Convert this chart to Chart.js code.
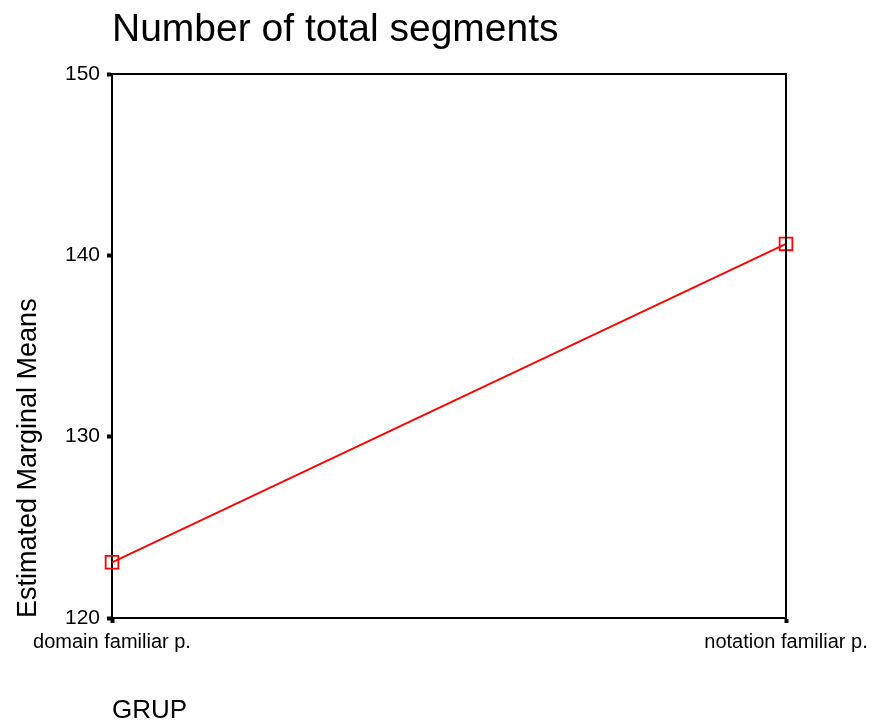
<!DOCTYPE html>
<html>
<head>
<meta charset="utf-8">
<script src="https://cdn.jsdelivr.net/npm/chart.js@4/dist/chart.umd.min.js"></script>
<style>
    html, body { margin: 0; padding: 0; background: #ffffff; }
    canvas { display: block; }
</style>
</head>
<body>
<canvas id="emm-chart" width="875" height="721"></canvas>
<script>
(function() {
    'use strict';

    // Dados
    var groups = ['domain familiar p.', 'notation familiar p.'];
    var segmentMeans = [123.07, 140.63];
    var yTicks = [120, 130, 140, 150];

    var fontFamily = '"Liberation Sans", Arial, Helvetica, sans-serif';

    /**
     * Desenha o título e a moldura (linhas superior e direita)
     */
    var framePlugin = {
        id: 'frame',
        afterDraw: function(chart) {
            var ctx = chart.ctx;
            var a = chart.chartArea;
            ctx.save();
            ctx.strokeStyle = '#000000';
            ctx.lineWidth = 2;
            ctx.beginPath();
            ctx.moveTo(a.left, a.top);
            ctx.lineTo(a.right, a.top);
            ctx.lineTo(a.right, a.bottom);
            ctx.stroke();

            ctx.fillStyle = '#000000';
            ctx.font = '39px ' + fontFamily;
            ctx.textAlign = 'left';
            ctx.textBaseline = 'middle';
            ctx.fillText('Number of total segments', a.left, 30);
            ctx.restore();
        }
    };

    var canvas = document.getElementById('emm-chart');
    var ctx = canvas.getContext('2d');
    new Chart(ctx, {
        type: 'line',
        data: {
            labels: groups,
            datasets: [{
                label: 'Number of total segments',
                data: segmentMeans,
                borderColor: '#ff0000',
                borderWidth: 1.8,
                backgroundColor: 'rgba(0,0,0,0)',
                fill: false,
                tension: 0,
                pointStyle: 'rect',
                pointRadius: 9,
                pointHoverRadius: 9,
                pointBorderColor: '#ff0000',
                pointBackgroundColor: 'rgba(0,0,0,0)',
                pointBorderWidth: 1.8,
                clip: false
            }]
        },
        options: {
            responsive: false,
            animation: false,
            layout: {
                padding: { top: 74, right: 89, left: 0, bottom: 0 }
            },
            plugins: {
                legend: { display: false },
                title: { display: false },
                tooltip: { enabled: false }
            },
            scales: {
                x: {
                    type: 'category',
                    offset: false,
                    afterFit: function(scale) { scale.height = 103; },
                    grid: {
                        drawOnChartArea: false,
                        drawTicks: true,
                        tickLength: 5,
                        tickWidth: 4,
                        tickColor: '#000000',
                        offset: false
                    },
                    border: { color: '#000000', width: 2 },
                    ticks: {
                        color: '#000000',
                        padding: 7,
                        maxRotation: 0,
                        autoSkip: false,
                        font: { family: fontFamily, size: 20 }
                    },
                    title: {
                        display: true,
                        text: 'GRUP',
                        align: 'start',
                        color: '#000000',
                        padding: 0,
                        font: { family: fontFamily, size: 26, lineHeight: 0.8 }
                    }
                },
                y: {
                    min: 120,
                    max: 150,
                    afterFit: function(scale) { scale.width = 112; },
                    afterBuildTicks: function(scale) {
                        scale.ticks = yTicks.map(function(v) { return { value: v }; });
                    },
                    grid: {
                        drawOnChartArea: false,
                        drawTicks: true,
                        tickLength: 5,
                        tickWidth: 4,
                        tickColor: '#000000'
                    },
                    border: { color: '#000000', width: 2 },
                    ticks: {
                        color: '#000000',
                        padding: 7,
                        font: { family: fontFamily, size: 21 }
                    },
                    title: {
                        display: true,
                        text: 'Estimated Marginal Means',
                        align: 'start',
                        color: '#000000',
                        padding: { top: 12, bottom: 0 },
                        font: { family: fontFamily, size: 27 }
                    }
                }
            }
        },
        plugins: [framePlugin]
    });
})();
</script>
</body>
</html>
